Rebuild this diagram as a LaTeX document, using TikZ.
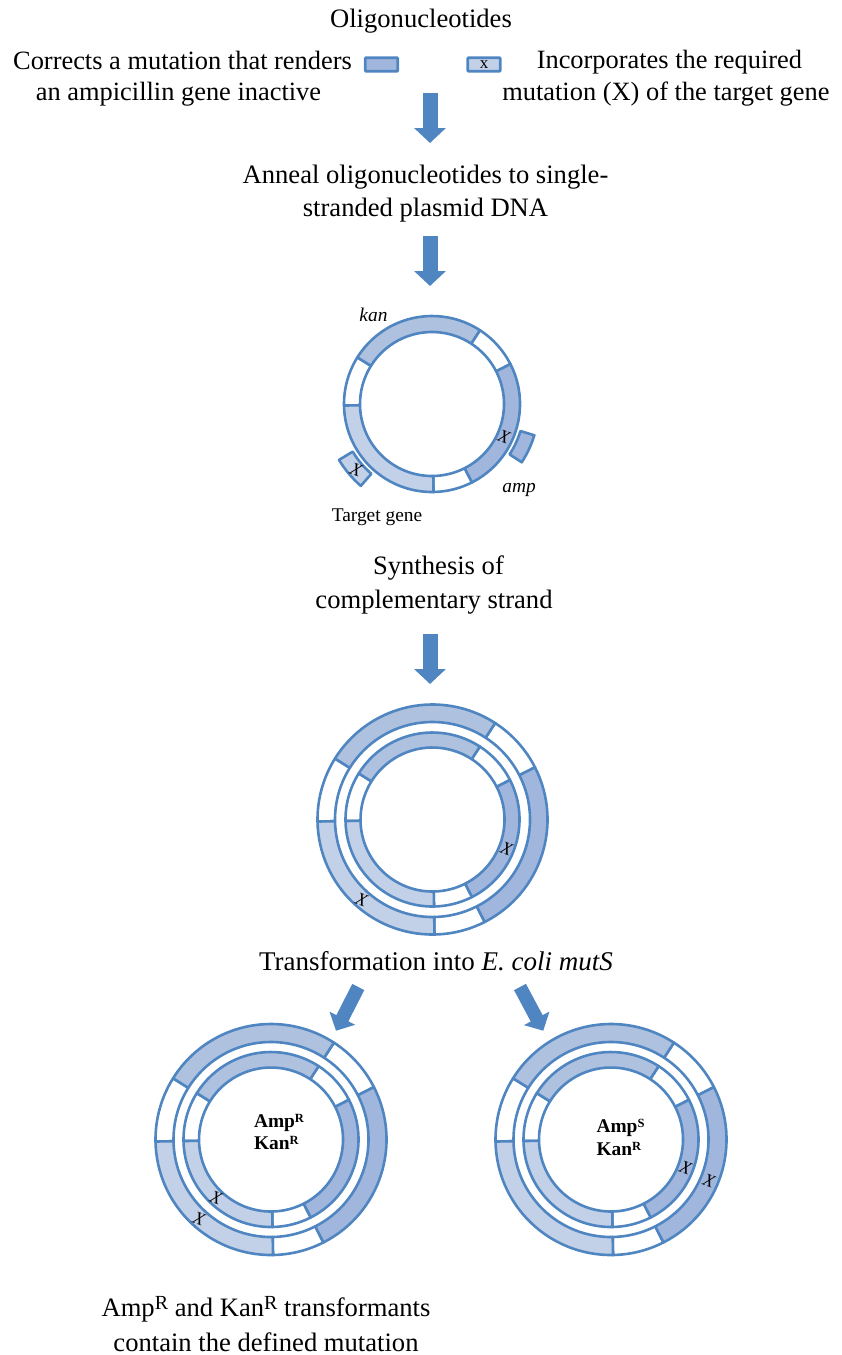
\documentclass[tikz,border=0pt]{standalone}
\usepackage{fontspec}
\setmainfont{Liberation Serif}
\usetikzlibrary{arrows.meta}
\definecolor{ringline}{HTML}{4F86C1}
\definecolor{kanfill}{HTML}{AEC1DF}
\definecolor{ampfill}{HTML}{A1B6DC}
\definecolor{genefill}{HTML}{C2D0E8}
\tikzset{
  x=1pt,y=1pt,
  band/.style={draw=ringline,line width=2.6pt,line join=round},
  caption/.style={font=\fontsize{26.6}{33}\selectfont,align=center,text=black,inner sep=0pt},
  smalllabel/.style={font=\fontsize{19.4}{23}\selectfont,text=black,inner sep=0pt},
  italiclabel/.style={font=\fontsize{19.4}{23}\selectfont\itshape,text=black,inner sep=0pt},
  marker/.style={font=\fontsize{18}{18}\selectfont\itshape,text=black,inner sep=0pt},
  resist/.style={font=\fontsize{19.4}{22.5}\selectfont\bfseries,align=left,text=black,inner sep=0pt},
  flow/.style={draw=ringline,line width=15pt,-{Triangle[width=31pt,length=15pt]}},
  slantflow/.style={draw=ringline,line width=13.5pt,-{Triangle[width=28pt,length=14pt]}},
  oligo/.style={draw=ringline,line width=2.6pt,rounded corners=0.8pt,minimum width=32.5pt,minimum height=13.5pt,inner sep=0pt}
}
% Superscript letters: tiny bold ones inside the rings, large ones in running text
\newcommand{\smallsup}[1]{\raisebox{5pt}{\fontsize{12.5}{12.5}\selectfont #1}}
\newcommand{\bigsup}[1]{\raisebox{7pt}{\fontsize{20}{20}\selectfont #1}}
% One annular sector: inner radius, outer radius, start angle, end angle, fill
\newcommand{\sector}[5]{%
  \filldraw[band,fill=#5] (#3:#2pt) arc[start angle=#3,end angle=#4,radius=#2pt]
    -- (#4:#1pt) arc[start angle=#4,end angle=#3,radius=#1pt] -- cycle;}
% A whole plasmid ring divided into its six segments
\newcommand{\plasmid}[2]{%
  \sector{#1}{#2}{27}{57}{white}
  \sector{#1}{#2}{148}{181}{white}
  \sector{#1}{#2}{271}{297}{white}
  \sector{#1}{#2}{57}{148}{kanfill}
  \sector{#1}{#2}{181}{271}{genefill}
  \sector{#1}{#2}{-63}{27}{ampfill}}
\begin{document}
\begin{tikzpicture}
\useasboundingbox (0,0) rectangle (842,-1355);

% Oligonucleotide legend
\node[caption] (title) at (421,-21) {Oligonucleotides};
\node[caption,font=\fontsize{26.4}{31}\selectfont] (left) at (180.5,-78.5) {\hspace*{4pt}Corrects a mutation that renders\\an ampicillin gene inactive\hspace*{4pt}};
\node[caption,font=\fontsize{26.4}{32}\selectfont] (right) at (667.7,-78.5) {\hspace*{3.5pt}Incorporates the required\\mutation (X) of the target gene\hspace*{3.5pt}};
\node[oligo,fill=ampfill] (oligoA) at (381.5,-64.5) {};
\node[oligo,fill=genefill,font=\fontsize{17}{17}\selectfont] (oligoB) at (484,-64.5) {x};

% Process captions
\node[caption] (anneal) at (425.5,-194) {Anneal oligonucleotides to single-\\stranded plasmid DNA};
\node[caption,font=\fontsize{26.6}{34}\selectfont] (synth) at (434,-584.5) {\hspace*{9pt}Synthesis of\\complementary strand};
\node[caption,font=\fontsize{27}{33}\selectfont] (transf) at (436,-961) {Transformation into \textit{E. coli mutS}};
\node[caption,font=\fontsize{26.6}{35}\selectfont] (result) at (266,-1324.5) {Amp\bigsup{R} and Kan\bigsup{R} transformants\\contain the defined mutation};

% Flow arrows
\coordinate (a1s) at (430,-92.5);  \coordinate (a1e) at (430,-143);
\coordinate (a2s) at (430,-236);   \coordinate (a2e) at (430,-286);
\coordinate (a3s) at (430,-634);   \coordinate (a3e) at (430,-684);
\coordinate (a4s) at (358.3,-987); \coordinate (a4e) at (336,-1030.7);
\coordinate (a5s) at (520,-987);   \coordinate (a5e) at (543.3,-1030.7);
\draw[flow] (a1s) -- (a1e);
\draw[flow] (a2s) -- (a2e);
\draw[flow] (a3s) -- (a3e);
\draw[slantflow] (a4s) -- (a4e);
\draw[slantflow] (a5s) -- (a5e);

% Single-stranded plasmid with annealed oligonucleotides
\begin{scope}[shift={(432,-404)}]
  \plasmid{72}{88}
  \sector{92.5}{108.5}{211}{229}{genefill}
  \sector{92.5}{107}{-33}{-17}{ampfill}
  \node[marker,rotate=-20] (x1) at (72,-33) {X};
  \node[marker,rotate=-20] (x2) at (-76,-66) {X};
\end{scope}
\node[italiclabel] (kan) at (373.5,-315) {kan};
\node[italiclabel] (amp) at (519,-490) {amp};
\node[smalllabel] (target) at (377,-517) {Target gene};

% Double-stranded heteroduplex
\begin{scope}[shift={(432.5,-819.5)}]
  \plasmid{97.5}{115}
  \plasmid{72}{87}
  \node[marker,rotate=-20] (x3) at (74,-29) {X};
  \node[marker,rotate=-20] (x4) at (-71,-80) {X};
\end{scope}

% Transformant carrying the defined mutation
\begin{scope}[shift={(271,-1139.5)}]
  \plasmid{97.5}{115.5}
  \plasmid{72}{87.5}
  \node[marker,rotate=-20] (x5) at (-55,-58) {X};
  \node[marker,rotate=-20] (x6) at (-72,-79) {X};
  \node[resist] (resA) at (8,7.5) {Amp\smallsup{R}\\Kan\smallsup{R}};
\end{scope}

% Transformant carrying the repaired parental strand
\begin{scope}[shift={(611,-1139.5)}]
  \plasmid{97.5}{115.5}
  \plasmid{72}{87.5}
  \node[marker,rotate=-20] (x7) at (74.5,-28) {X};
  \node[marker,rotate=-20] (x8) at (98,-41.5) {X};
  \node[resist] (resS) at (9.5,2) {Amp\smallsup{S}\\Kan\smallsup{R}};
\end{scope}
\end{tikzpicture}
\end{document}
